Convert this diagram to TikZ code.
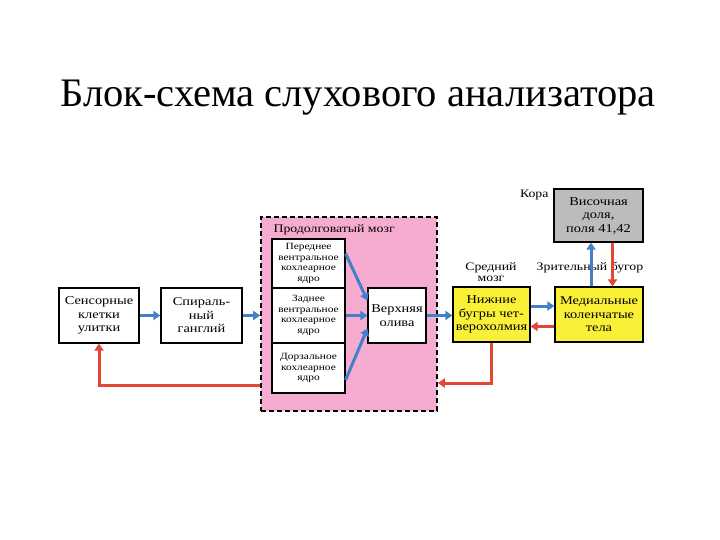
\documentclass[tikz,border=0pt]{standalone}
\usepackage{fontspec}
\setmainfont{Liberation Serif}
\newfontfamily\boxfont[FakeStretch=1.2]{Liberation Serif}
\usepackage{tikz}
\usetikzlibrary{arrows.meta, positioning}
\definecolor{medpink}{RGB}{245,172,208}
\definecolor{midyellow}{RGB}{250,240,55}
\definecolor{cortexgray}{RGB}{188,188,188}
\definecolor{upblue}{RGB}{68,128,200}
\definecolor{downred}{RGB}{226,72,52}

\begin{document}
\begin{tikzpicture}[
  x=1pt, y=-1pt,
  >={Triangle[length=7pt, width=9pt]},
  blk/.style={draw=black, line width=1.2pt, fill=#1, align=center, inner sep=2pt,
              font=\boxfont\fontsize{12}{13.5}\selectfont},
  nucl/.style={draw=black, line width=1.2pt, fill=white, align=center, inner sep=1pt,
               minimum width=73pt, font=\boxfont\fontsize{9.5}{10.5}\selectfont},
  asc/.style={->, draw=upblue, line width=3pt},
  desc/.style={->, draw=downred, line width=3pt},
  lbl/.style={align=center, font=\boxfont\fontsize{11.5}{11}\selectfont},
]
  \useasboundingbox (0,0) rectangle (720,540);

  % --- title ---------------------------------------------------------
  \node[font=\fontsize{40.5}{46}\selectfont] (title) at (358,98) {Блок-схема слухового анализатора};

  % --- periphery -----------------------------------------------------
  \node[blk=white, minimum width=80pt, minimum height=55pt] (sens) at (99,315.5) {Сенсорные\\клетки\\улитки};
  \node[blk=white, minimum width=81pt, minimum height=55pt] (spir) at (201.5,315.5) {Спираль-\\ный\\ганглий};

  % --- medulla -------------------------------------------------------
  \node[draw=black, line width=1.6pt, dash pattern=on 5pt off 3pt, fill=medpink,
        minimum width=176pt, minimum height=194pt] (medulla) at (349,314) {};
  \node[lbl, anchor=west] (medlabel) at (270,230) {Продолговатый мозг};
  \node[nucl, minimum height=49pt] (antv) at (308.5,263.5) {Переднее\\вентральное\\кохлеарное\\ядро};
  \node[nucl, minimum height=55pt] (postv) at (308.5,315.5) {Заднее\\вентральное\\кохлеарное\\ядро};
  \node[nucl, minimum height=50pt] (dors) at (308.5,368) {Дорзальное\\кохлеарное\\ядро};
  \node[blk=white, minimum width=58pt, minimum height=55pt] (oliva) at (397,315.5) {Верхняя\\олива};

  % --- midbrain, thalamus, cortex ------------------------------------
  \node[blk=midyellow, minimum width=77pt, minimum height=55pt] (coll) at (491.5,314.5) {Нижние\\бугры чет-\\верохолмия};
  \node[blk=midyellow, minimum width=88pt, minimum height=55pt] (medgen) at (599,314.5) {Медиальные\\коленчатые\\тела};
  \node[blk=cortexgray, minimum width=89pt, minimum height=53pt] (temp) at (598.5,215.5) {Височная\\доля,\\поля 41,42};

  \node[lbl, anchor=east] (cortex) at (552,195) {Кора};
  \node[lbl] (midbrain) at (491,272) {Средний\\мозг};
  \node[lbl] (thal) at (590,268) {Зрительный бугор};

  % --- ascending path ------------------------------------------------
  \draw[asc] (sens) -- (spir);
  \draw[asc] (spir.east) -- (spir.east -| medulla.west);
  \draw[asc] ([yshift=10pt]antv.east) -- ([yshift=15pt]oliva.west);
  \draw[asc] (postv) -- (oliva);
  \draw[asc] ([yshift=-12pt]dors.east) -- ([yshift=-13pt]oliva.west);
  \draw[asc] (oliva.east) -- (oliva.east -| coll.west);
  \draw[asc] ([yshift=8.5pt]coll.east) -- ([yshift=8.5pt]medgen.west);
  \draw[asc] ([xshift=-8pt]medgen.north) -- ([xshift=-8pt]medgen.north |- temp.south);

  % --- descending path -----------------------------------------------
  \draw[desc] ([xshift=14pt]temp.south) -- ([xshift=14pt]temp.south |- medgen.north);
  \draw[desc] ([yshift=-12pt]medgen.west) -- ([yshift=-12pt]coll.east);
  \draw[desc] (coll.south) |- ([yshift=-69pt]medulla.east);
  \draw[desc] ([yshift=-71pt]medulla.west) -| (sens.south);
\end{tikzpicture}
\end{document}
